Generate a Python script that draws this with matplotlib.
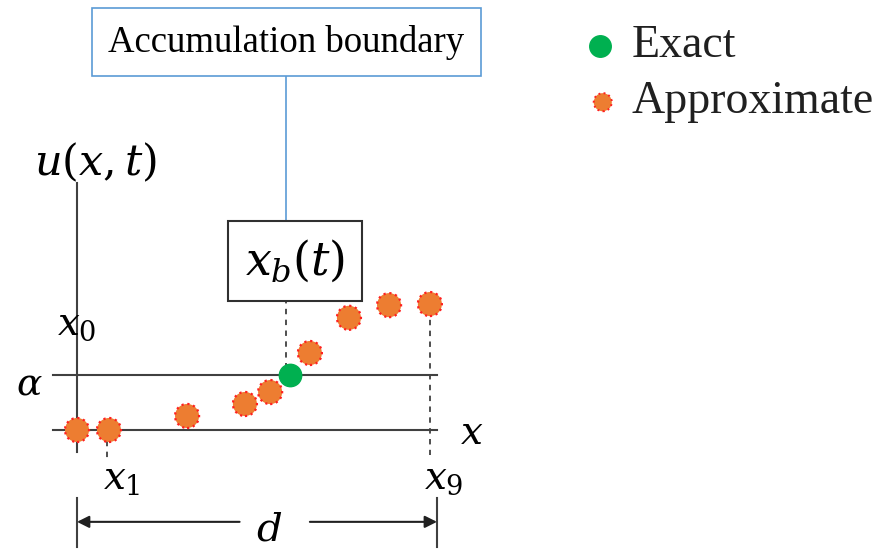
import matplotlib
matplotlib.use("Agg")
import matplotlib.pyplot as plt

plt.rcParams['mathtext.fontset'] = 'dejavuserif'
plt.rcParams['font.family'] = ['Liberation Serif', 'DejaVu Serif']

# node positions (fraction of d) and u values (in units of alpha)
approx_x = [0.0, 0.09, 0.31, 0.473, 0.544, 0.656, 0.766, 0.879, 0.994]
approx_u = [0.0, 0.0, 0.255, 0.473, 0.69, 1.40, 2.04, 2.27, 2.29]
exact_x = [0.60]
exact_u = [1.0]
x1_pos = 0.085
x9_pos = 0.994
xb_pos = 0.59

fig = plt.figure(figsize=(8.82, 5.53), dpi=100)
ax = fig.add_axes([0, 0, 1, 1])
ax.set_xlim(-77 / 355, 805 / 355)
ax.set_ylim(-123 / 55, 430 / 55)
ax.axis('off')

# axes of the sketch
ax.plot([-0.068, 1.015], [0, 0], color='#404040', lw=1.5)
ax.plot([-0.068, 1.015], [1, 1], color='#404040', lw=1.5)
ax.plot([0, 0], [-0.4, 4.5], color='#404040', lw=1.5)

# dashed guides
ax.plot([x1_pos, x1_pos], [0, -0.5], color='#404040', lw=1.3, ls=(0, (3, 3)))
ax.plot([x9_pos, x9_pos], [2.2, -0.45], color='#404040', lw=1.3, ls=(0, (3, 3)))
ax.plot([xb_pos, xb_pos], [2.4, 1.0], color='#404040', lw=1.3, ls=(0, (3, 3)))

# points
ax.scatter(approx_x, approx_u, s=300, c='#ED7D31', edgecolors='#FF2020',
           linewidths=1.6, linestyle=':', zorder=3)
ax.scatter(exact_x, exact_u, s=260, c='#00B050', edgecolors='#00B050', zorder=4)

# labels
ax.text(-0.12, 4.87, '$u(x,t)$', fontsize=31, ha='left', va='center')
ax.text(0.0, 1.9, '$x_0$', fontsize=28, ha='center', va='center')
ax.text(-0.135, 0.82, r'$\alpha$', fontsize=27, ha='center', va='center')
ax.text(1.112, -0.08, '$x$', fontsize=28, ha='center', va='center')
ax.text(0.125, -0.9, '$x_1$', fontsize=28, ha='center', va='center')
ax.text(1.034, -0.9, '$x_9$', fontsize=28, ha='center', va='center')
ax.text(0.54, -1.83, '$d$', fontsize=29, ha='center', va='center')

# x_b(t) box and accumulation boundary callout
ax.text(0.614, 3.07, '$x_b(t)$', fontsize=33, ha='center', va='center',
        bbox=dict(boxstyle='square,pad=0.36', fc='white', ec='#303030', lw=1.5))
ax.plot([xb_pos, xb_pos], [3.75, 6.45], color='#5B9BD5', lw=1.2)
ax.text(xb_pos, 7.05, 'Accumulation boundary', fontsize=26.5,
        ha='center', va='center',
        bbox=dict(boxstyle='square,pad=0.45', fc='white', ec='#5B9BD5', lw=1.2))

# dimension d
ax.plot([0, 0], [-1.23, -2.13], color='#404040', lw=1.5)
ax.plot([1.014, 1.014], [-1.23, -2.13], color='#404040', lw=1.5)
ax.annotate('', xy=(0.0, -1.67), xytext=(0.458, -1.67),
            arrowprops=dict(arrowstyle='-|>', color='#202020', lw=1.5,
                            mutation_scale=18, shrinkA=0, shrinkB=0))
ax.annotate('', xy=(1.014, -1.67), xytext=(0.656, -1.67),
            arrowprops=dict(arrowstyle='-|>', color='#202020', lw=1.5,
                            mutation_scale=18, shrinkA=0, shrinkB=0))

# legend
ax.scatter([1.473], [6.98], s=240, c='#00B050', zorder=4)
ax.text(1.563, 6.98, 'Exact', fontsize=33, ha='left', va='center', color='#202020')
ax.scatter([1.481], [5.96], s=170, c='#ED7D31', edgecolors='#FF2020',
           linewidths=1.4, linestyle=':', zorder=3)
ax.text(1.563, 5.96, 'Approximate', fontsize=33, ha='left', va='center', color='#202020')

fig.savefig('out.png', dpi=100)
